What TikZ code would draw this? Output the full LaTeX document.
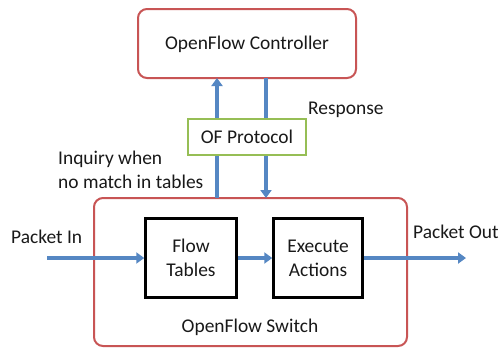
\documentclass[tikz,border=0pt]{standalone}
\usepackage{fontspec}
\setmainfont{Carlito}
\usetikzlibrary{arrows.meta}
\definecolor{boxred}{RGB}{200,85,85}
\definecolor{boxgreen}{RGB}{150,190,85}
\definecolor{arrblue}{RGB}{85,135,195}
\begin{document}
\begin{tikzpicture}[x=1bp,y=-1bp,
  every node/.style={font=\fontsize{19.5}{24}\selectfont, text=black!90},
  redbox/.style={draw=boxred, line width=2bp, rounded corners=9bp},
  greenbox/.style={draw=boxgreen, line width=2bp},
  blackbox/.style={draw=black, line width=2.5bp},
  flow/.style={draw=arrblue, line width=3.5bp, -{Triangle[length=8bp,width=11bp]}},
  lbl/.style={inner sep=0pt}]
\useasboundingbox (0,0) rectangle (501,350);
\fill[white] (0,0) rectangle (501,350);
% controller
\draw[redbox] (138,9) rectangle (356,78);
\node[lbl] (ctrl) at (247,44) {OpenFlow Controller};
\coordinate (ctrlL) at (217,78);
\coordinate (ctrlR) at (266,78);
% switch
\draw[redbox] (94,198) rectangle (407,346);
\node[lbl] (sw) at (250,327) {OpenFlow Switch};
\coordinate (swL) at (217,198);
\coordinate (swR) at (266,198);
% arrows to/from controller (behind protocol box)
\draw[flow] (swL) -- (ctrlL);
\draw[flow] (ctrlR) -- (swR);
% OF protocol
\draw[greenbox, fill=white] (188,119) rectangle (306,155);
\node[lbl] (ofp) at (247,137) {OF Protocol};
% inner boxes
\node[blackbox, minimum width=91bp, minimum height=79bp, align=center, inner sep=0pt] (ft) at (191,258) {Flow\\Tables};
\node[blackbox, minimum width=89bp, minimum height=79bp, align=center, inner sep=0pt] (ea) at (318,258) {Execute\\Actions};
\coordinate (pin) at (47,258);
\coordinate (pout) at (466,258);
\draw[flow] (pin) -- (ft.west);
\draw[flow] (ft.east) -- (ea.west);
\draw[flow] (ea.east) -- (pout);
% labels
\node[lbl, anchor=west] (lin) at (11,237) {Packet In};
\node[lbl, anchor=west] (lout) at (413,232) {Packet Out};
\node[lbl, anchor=west] (resp) at (308,110) {Response};
\node[lbl, anchor=west, align=left] (inq) at (58,170) {Inquiry when\\no match in tables};
\end{tikzpicture}
\end{document}
